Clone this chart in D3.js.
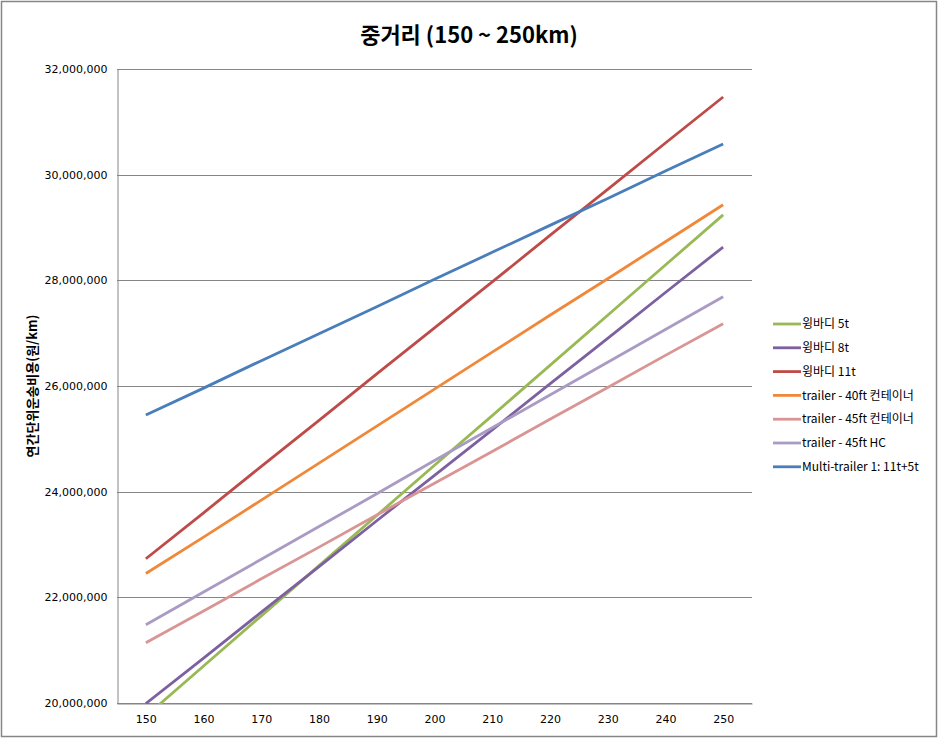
<!DOCTYPE html>
<html><head><meta charset="utf-8">
<script src="https://cdn.jsdelivr.net/npm/d3@7"></script>
<style>body{margin:0;background:#fff}</style>
</head><body>
<svg id="c" width="938" height="739"></svg>
<script>
const categories = [150,160,170,180,190,200,210,220,230,240,250];
const seriesNames = ["윙바디 5t","윙바디 8t","윙바디 11t","trailer - 40ft 컨테이너","trailer - 45ft 컨테이너","trailer - 45ft HC","Multi-trailer 1: 11t+5t"];
const wing5t   = [19750000,20700000,21650000,22600000,23550000,24500000,25440000,26390000,27340000,28290000,29240000];
const wing8t   = [19990000,20850000,21720000,22580000,23450000,24310000,25170000,26040000,26900000,27770000,28630000];
const wing11t  = [22730000,23600000,24480000,25350000,26230000,27100000,27970000,28850000,29720000,30600000,31470000];
const tr40     = [22450000,23140000,23840000,24540000,25240000,25940000,26640000,27340000,28030000,28730000,29430000];
const tr45     = [21140000,21740000,22350000,22950000,23560000,24160000,24760000,25370000,25970000,26580000,27180000];
const tr45HC   = [21480000,22100000,22720000,23340000,23960000,24590000,25210000,25830000,26450000,27070000,27690000];
const multi    = [25450000,25960000,26480000,26990000,27500000,28020000,28530000,29040000,29550000,30070000,30580000];
const seriesValues = [wing5t,wing8t,wing11t,tr40,tr45,tr45HC,multi];
const colors = ["#98B954","#7D60A0","#BE4B48","#F0883A","#D99594","#A99BC3","#4A7EBB"];
const yTicks = [20000000,22000000,24000000,26000000,28000000,30000000,32000000];
const title = "중거리 (150 ~ 250km)";
const yLabel = "연간단위운송비용(원/km)";

const svg = d3.select("#c");
const font = "'Noto Sans CJK KR','Noto Sans',sans-serif";
const tickFont = "'DejaVu Sans',sans-serif";
svg.append("rect").attr("x",1.5).attr("y",1.5).attr("width",935).attr("height",735)
  .attr("fill","#fff").attr("stroke","#868686").attr("stroke-width",1.5);

const L=117,R=752,T=69,B=703;
const x = d3.scalePoint().domain(categories).range([L,R]).padding(0.5);
const y = d3.scaleLinear().domain([20000000,32000000]).range([B,T]);

// gridlines
svg.append("g").selectAll("line").data(yTicks).join("line")
  .attr("x1",L).attr("x2",R).attr("y1",d=>Math.round(y(d))+0.5).attr("y2",d=>Math.round(y(d))+0.5)
  .attr("stroke","#868686").attr("stroke-width",1);

// axes
const fmt = d3.format(",");
const ya = svg.append("g").attr("transform",`translate(${L+0.5},0)`)
  .call(d3.axisLeft(y).tickValues(yTicks).tickFormat(fmt).tickSize(0).tickPadding(10));
ya.select(".domain").attr("stroke","#868686");
ya.selectAll("text").attr("font-family",tickFont).attr("font-size",11).attr("fill","#000");
const xa = svg.append("g").attr("transform",`translate(0,${B+0.5})`)
  .call(d3.axisBottom(x).tickSize(0).tickPadding(12));
xa.select(".domain").attr("stroke","#868686");
xa.selectAll("text").attr("font-family",tickFont).attr("font-size",11).attr("fill","#000");

// clip
svg.append("clipPath").attr("id","pc").append("rect").attr("x",L).attr("y",T).attr("width",R-L).attr("height",B-T+1);
const line = d3.line().x((d,i)=>x(categories[i])).y(d=>y(d));
const lg = svg.append("g").attr("clip-path","url(#pc)");
seriesValues.forEach((vals,k)=>{
  lg.append("path").attr("d",line(vals)).attr("fill","none").attr("stroke",colors[k])
    .attr("stroke-width",2.8).attr("stroke-linejoin","round");
});

// title
svg.append("text").attr("x",469).attr("y",43).attr("text-anchor","middle")
  .attr("font-family",font).attr("font-weight","bold").attr("font-size",22).text(title);
// y label
svg.append("text").attr("transform","translate(37,386) rotate(-90)").attr("text-anchor","middle")
  .attr("font-family",font).attr("font-weight","bold").attr("font-size",13).text(yLabel);

// legend
const leg = svg.append("g");
seriesNames.forEach((n,k)=>{
  const yy = 324 + k*23.8;
  leg.append("line").attr("x1",773).attr("x2",801).attr("y1",yy).attr("y2",yy)
    .attr("stroke",colors[k]).attr("stroke-width",2.8);
  leg.append("text").attr("x",802).attr("y",yy).attr("dy","0.35em")
    .attr("font-family",font).attr("font-size",12).text(n);
});
</script>
</body></html>
